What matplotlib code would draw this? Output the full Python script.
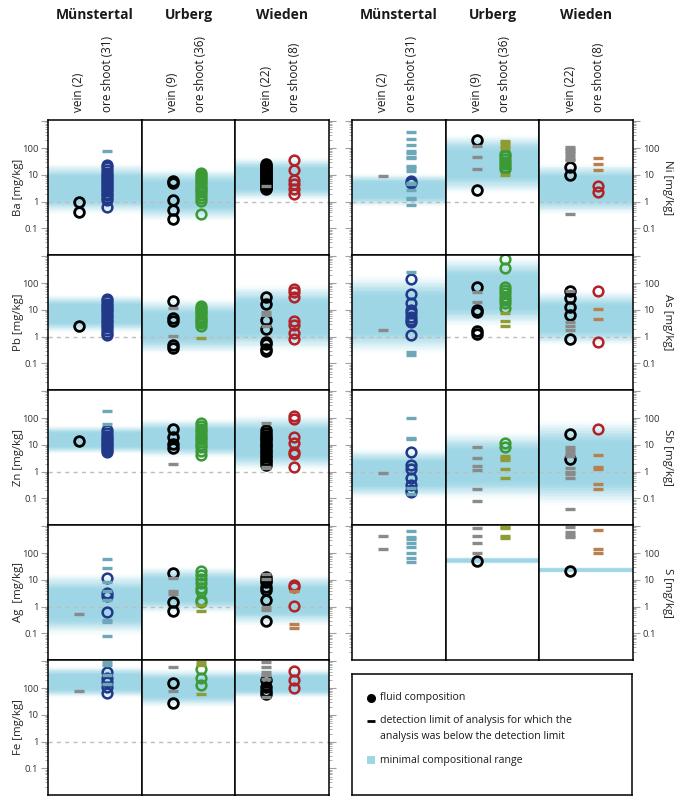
import matplotlib
matplotlib.use("Agg")
import matplotlib.pyplot as plt
import numpy as np
from matplotlib.patches import Rectangle
from matplotlib.ticker import FixedLocator, LogLocator, NullFormatter

plt.rcParams['font.family'] = ['Open Sans', 'DejaVu Sans']

localities = ["Münstertal", "Urberg", "Wieden"]
sample_labels = [("vein (2)", "ore shoot (31)"),
                 ("vein (9)", "ore shoot (36)"),
                 ("vein (22)", "ore shoot (8)")]

# values in mg/kg, one list per locality (Münstertal, Urberg, Wieden)
ba = dict(
    vein=[[1.0, 0.42], [6.0, 4.8, 1.15, 0.5, 0.22],
          [25, 22, 20, 18, 16, 14, 12.5, 11, 10, 9, 8, 7, 6.2, 5.5, 5, 4.5, 4, 3.6, 3.3, 3.0]],
    ore=[[23, 19, 15, 12, 10, 8.5, 7, 6, 5, 4.2, 3.5, 3, 2.5, 2, 1.7, 1.4, 1.2, 0.65],
         [12, 10, 8.5, 7, 5.8, 4.8, 4, 3.3, 2.7, 2.2, 1.8, 1.4, 1.1, 0.35],
         [35, 15, 6.5, 4.5, 3.0, 1.9]],
    vein_dl=[[], [], [3.8]],
    ore_dl=[[80], [], []],
    band=[(0.31, 30), (0.17, 19.5), (1.0, 50)],
)
pb = dict(
    vein=[[2.6], [22, 4.8, 3.8, 0.49, 0.37], [31, 16, 4.2, 1.9, 0.65, 0.51, 0.36, 0.3]],
    ore=[[25, 21, 17, 14, 11.5, 9.5, 8, 6.5, 5.3, 4.3, 3.5, 2.8, 2.2, 1.7, 1.35, 1.15],
         [14, 12, 10, 8.3, 6.8, 5.6, 4.6, 3.8, 3.1, 2.5],
         [58, 45, 31, 3.8, 2.7, 1.4, 0.8]],
    vein_dl=[[], [11.5, 1.07], [8, 6.3, 2.5]],
    ore_dl=[[], [0.9], []],
    band=[(1.3, 40), (0.2, 30), (0.25, 100)],
)
zn = dict(
    vein=[[14], [39, 20, 10.5, 7.8],
          [35, 28, 22, 18, 15, 12, 10, 8, 6.5, 5.3, 4.3, 3.5, 2.8, 2.2, 1.8]],
    ore=[[35, 28, 22, 18, 15, 13, 11, 9, 7.5, 6.5, 5.5],
         [65, 50, 40, 32, 25, 20, 16, 13, 10, 8, 6, 4.2],
         [120, 90, 19, 11.5, 5.5, 4.4, 1.5]],
    vein_dl=[[], [2.0], [63, 1.5, 1.35]],
    ore_dl=[[187, 58], [], []],
    band=[(4.2, 55), (3, 100), (1.0, 150)],
)
ag = dict(
    vein=[[], [17.5, 1.5, 0.7], [13, 10, 8, 5.5, 4.2, 1.8, 0.29]],
    ore=[[12, 3.3, 2.6, 0.64], [21, 15, 10.5, 7.4, 5.1, 3.8, 1.8, 1.45], [6.3, 5.5, 1.07]],
    vein_dl=[[0.51], [12, 3.8, 2.9], [16, 11, 1.0, 0.75]],
    ore_dl=[[60, 27, 8.5, 3.8, 1.8, 0.32, 0.27, 0.08], [1.2, 0.7], [3.8, 0.22, 0.16]],
    band=[(0.075, 20), (0.5, 35), (0.17, 18)],
)
fe = dict(
    vein=[[], [150, 27], [200, 110, 77, 58]],
    ore=[[400, 230, 170, 110, 63], [510, 230, 130], [430, 200, 100]],
    vein_dl=[[77], [630, 77], [900, 630, 400, 300, 220, 45]],
    ore_dl=[[950, 720, 300, 140], [900, 700, 60], []],
    band=[(40, 700), (18, 560), (40, 560)],
)
ni = dict(
    vein=[[], [200, 2.7], [19, 10]],
    ore=[[6, 5], [60, 50, 40, 30, 25, 20, 17], [3.8, 2.2]],
    vein_dl=[[9], [118, 48, 17], [110, 95, 80, 65, 50, 40, 35, 0.35]],
    ore_dl=[[400, 215, 130, 77, 67, 47, 44, 22, 18, 14, 4.9, 4.4, 2.7, 1.4, 1.25, 0.74],
            [180, 150, 120, 100, 10], [44, 25, 15]],
    band=[(0.6, 12), (1.8, 360), (0.3, 30)],
)
as_ = dict(
    vein=[[], [69, 9.8, 8, 1.6, 1.3], [51, 27, 13, 6.5, 0.81]],
    ore=[[137, 38, 17.5, 9.8, 7.4, 5.5, 4.2, 3.6, 1.2],
         [790, 350, 73, 55, 41, 31, 23, 17.5, 11.4], [50, 0.61]],
    vein_dl=[[1.8], [46, 20], [52, 3.5, 2.5, 1.8]],
    ore_dl=[[260, 0.27, 0.2], [7.4, 3.8, 2.6], [10.5, 4.4]],
    band=[(0.2, 230), (2, 1100), (0.4, 60)],
)
sb = dict(
    vein=[[], [], [25, 3]],
    ore=[[5.5, 1.8, 1.26, 0.6, 0.31, 0.21, 0.18], [11.5, 8.5], [39]],
    vein_dl=[[0.87], [8.5, 3.2, 1.66, 1.15, 0.22, 0.08],
             [8, 6.3, 5, 4, 1.35, 1.0, 0.8, 0.6, 0.04]],
    ore_dl=[[97, 18.5, 16, 0.25, 0.15], [4, 3.3, 2.8, 1.25, 0.56], [4.2, 1.5, 1.3, 0.35, 0.22]],
    band=[(0.09, 8), (0.08, 35), (0.045, 100)],
)
s = dict(
    vein=[[], [50], [21]],
    ore=[[], [], []],
    vein_dl=[[440, 137], [830, 440, 230, 103], [950, 600, 480, 380]],
    ore_dl=[[660, 400, 330, 240, 170, 98, 66, 45], [950, 830, 430, 350], [720, 137, 98]],
    band=[None, (39, 71), (18, 30)],
)

left_elements = [("Ba [mg/kg]", ba), ("Pb [mg/kg]", pb), ("Zn [mg/kg]", zn),
                 ("Ag  [mg/kg]", ag), ("Fe [mg/kg]", fe)]
right_elements = [("Ni [mg/kg]", ni), ("As [mg/kg]", as_), ("Sb [mg/kg]", sb),
                  ("S [mg/kg]", s)]
no_unit_line = ["S [mg/kg]"]

ore_colors = ["#22398a", "#3b9a36", "#b22228"]
ore_dl_colors = ["#6ea7b8", "#8e9c33", "#b8804e"]
vein_color = "black"
vein_dl_color = "#8a8a8a"
band_color = np.array([0.62, 0.84, 0.90])

W, H = 685, 796
fig = plt.figure(figsize=(W / 100, H / 100), dpi=100)

col_w = 281 / 3
row_h = 135
row_top = 120
left_x0, right_x0 = 48, 352
x_vein, x_ore = 0.33, 0.63
ylim = (10 ** -1.99, 10 ** 3.045)


def rect(x, y, w, h):
    return [x / W, 1 - (y + h) / H, w / W, h / H]


def draw_band(ax, lo, hi, n=60):
    # soft-edged band: opaque stripes blended towards white
    l0, l1 = np.log10(lo), np.log10(hi)
    edges = np.linspace(l0, l1, n + 1)
    step = edges[1] - edges[0]
    for a, b in zip(edges[:-1], edges[1:]):
        t = ((a + b) / 2 - l0) / (l1 - l0)
        f = np.clip(min(t, 1 - t) / 0.3, 0, 1)
        w = f * f * (3 - 2 * f)
        col = 1 - w * (1 - band_color)
        ax.axhspan(10 ** a, 10 ** (b + step * 0.6), color=tuple(col),
                   lw=0, zorder=0, antialiased=False)


def style_ticks(ax, side, labels):
    ax.set_yscale("log")
    ax.set_ylim(*ylim)
    ax.set_xlim(0, 1)
    ax.set_xticks([])
    ax.yaxis.set_major_locator(FixedLocator([0.01, 0.1, 1, 10, 100, 1000]))
    ax.yaxis.set_minor_locator(LogLocator(base=10, subs=np.arange(2, 10), numticks=20))
    ax.yaxis.set_minor_formatter(NullFormatter())
    ax.set_yticklabels(["", "0.1", "1", "10", "100", ""])
    if side is None:
        ax.tick_params(axis="y", which="both", left=False, right=False,
                       labelleft=False, labelright=False)
        return
    on_left = side == "left"
    ax.tick_params(axis="y", which="both", direction="out", color="#a0a0a0",
                   left=on_left, right=not on_left,
                   labelleft=on_left and labels, labelright=(not on_left) and labels,
                   labelsize=6.8, labelcolor="#333333", pad=2)
    ax.tick_params(axis="y", which="major", length=5, width=0.8)
    ax.tick_params(axis="y", which="minor", length=2.5, width=0.6)


def draw_panel(x0, r, label, data, outer):
    for c in range(3):
        ax = fig.add_axes(rect(x0 + c * col_w, row_top + r * row_h, col_w, row_h))
        for sp in ax.spines.values():
            sp.set_color("black")
            sp.set_linewidth(1.1)
            sp.set_zorder(5)
        side = "left" if c == 0 else ("right" if c == 2 else None)
        if outer == "left":
            style_ticks(ax, side, labels=(c == 0))
        else:
            style_ticks(ax, side, labels=(c == 2))
        band = data["band"][c]
        if band is not None:
            draw_band(ax, *band)
        if label not in no_unit_line:
            ax.axhline(1, color="#bdbdbd", lw=1, ls=(0, (3, 3)), zorder=1)
        v = data["vein"][c]
        o = data["ore"][c]
        ax.plot([x_vein] * len(v), v, ls="none", marker="o", ms=7, mfc="none",
                mec=vein_color, mew=2.0, zorder=3)
        ax.plot([x_ore] * len(o), o, ls="none", marker="o", ms=7, mfc="none",
                mec=ore_colors[c], mew=1.8, zorder=3)
        vd = data["vein_dl"][c]
        od = data["ore_dl"][c]
        ax.plot([x_vein] * len(vd), vd, ls="none", marker="_", ms=7.5,
                mec=vein_dl_color, mew=2.4, zorder=4)
        ax.plot([x_ore] * len(od), od, ls="none", marker="_", ms=7.5,
                mec=ore_dl_colors[c], mew=2.4, zorder=4)
    yc = 1 - (row_top + r * row_h + row_h / 2) / H
    if outer == "left":
        fig.text(18 / W, yc, label, rotation=90, ha="center", va="center",
                 fontsize=8.2, color="#222222")
    else:
        fig.text(668 / W, yc, label, rotation=270, ha="center", va="center",
                 fontsize=8.2, color="#222222")


for r, (label, data) in enumerate(left_elements):
    draw_panel(left_x0, r, label, data, "left")
for r, (label, data) in enumerate(right_elements):
    draw_panel(right_x0, r, label, data, "right")

# column headers
for x0 in (left_x0, right_x0):
    for c, name in enumerate(localities):
        cx = x0 + c * col_w
        fig.text((cx + col_w / 2) / W, 1 - 15 / H, name, ha="center", va="center",
                 fontsize=10, fontweight="bold", color="#1a1a1a")
        for xp, txt in zip((x_vein, x_ore), sample_labels[c]):
            fig.text((cx + xp * col_w) / W, 1 - 112 / H, txt, rotation=90,
                     ha="center", va="bottom", fontsize=8.5, color="#1a1a1a")

# legend box
lax = fig.add_axes(rect(352, 674, 280, 121))
lax.set_xlim(0, 280)
lax.set_ylim(121, 0)
lax.set_xticks([])
lax.set_yticks([])
for sp in lax.spines.values():
    sp.set_color("black")
    sp.set_linewidth(1.1)
lax.plot([19], [23.5], marker="o", ms=5.5, color="black", ls="none")
lax.text(28, 23.5, "fluid composition", va="center", fontsize=7.6, color="#1a1a1a")
lax.plot([19], [46.5], marker="_", ms=6, mew=2, color="black", ls="none")
lax.text(28, 46.5, "detection limit of analysis for which the", va="center",
         fontsize=7.6, color="#1a1a1a")
lax.text(28, 62.5, "analysis was below the detection limit", va="center",
         fontsize=7.6, color="#1a1a1a")
lax.add_patch(Rectangle((15, 82), 8, 8, color=tuple(band_color), lw=0))
lax.text(28, 86, "minimal compositional range", va="center", fontsize=7.6,
         color="#1a1a1a")

fig.savefig("out.png", dpi=100)
